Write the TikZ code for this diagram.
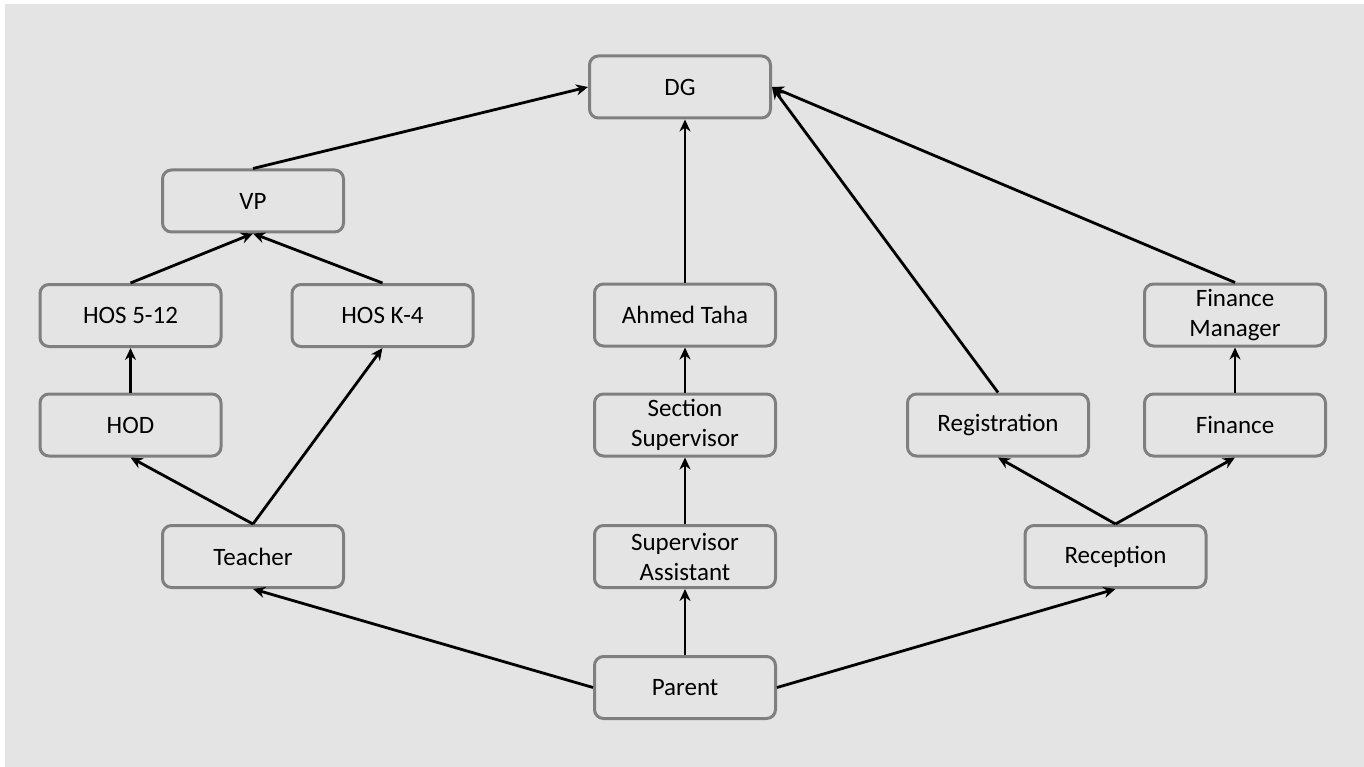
\documentclass[tikz,border=0pt]{standalone}
\usepackage{fontspec}
\setmainfont{Carlito}
\usetikzlibrary{arrows.meta}
\definecolor{bg}{HTML}{E4E4E4}
\definecolor{bd}{HTML}{7F7F7F}
\tikzset{
  box/.style={draw=bd, line width=3pt, rounded corners=9pt, fill=bg,
    minimum width=181pt, minimum height=62pt, align=center, inner sep=2pt,
    font=\fontsize{25}{30}\selectfont, text=black},
  arr/.style={line width=2.8pt, -{Stealth[length=12pt,width=11pt]}, black}
}
\begin{document}
\begin{tikzpicture}[x=1pt,y=-1pt]
\useasboundingbox (0,0) rectangle (1364,767);
\fill[bg] (5,4) rectangle (1375,780);
\node[box] (dg) at (680,87) {DG};
\node[box] (vp) at (253,201) {VP};
\node[box] (hos512) at (130.5,315.5) {HOS 5-12};
\node[box] (hosk4) at (382.5,315.5) {HOS K-4};
\node[box] (hod) at (130.5,425) {HOD};
\node[box] (teacher) at (253,556.5) {Teacher};
\node[box] (ahmed) at (685,315) {Ahmed Taha};
\node[box] (section) at (685,425) {Section\\Supervisor};
\node[box] (supasst) at (685,556.5) {Supervisor\\Assistant};
\node[box] (parent) at (685,687.5) {Parent};
\node[box] (reg) at (998,425) {Registration};
\node[box] (fin) at (1235,425) {Finance};
\node[box] (finman) at (1235,315) {Finance\\Manager};
\node[box] (rec) at (1115.5,556.5) {Reception};
\draw[arr] (vp.north) -- (dg.west);
\draw[arr] (ahmed.north) -- (ahmed.north |- dg.south);
\draw[arr] (reg.north) -- (dg.east);
\draw[arr] (finman.north) -- (dg.east);
\draw[arr] (hos512.north) -- (vp.south);
\draw[arr] (hosk4.north) -- (vp.south);
\draw[arr] (hod.north) -- (hos512.south);
\draw[arr] (teacher.north) -- (hod.south);
\draw[arr] (teacher.north) -- (hosk4.south);
\draw[arr] (parent.west) -- (teacher.south);
\draw[arr] (parent.north) -- (supasst.south);
\draw[arr] (supasst.north) -- (section.south);
\draw[arr] (section.north) -- (ahmed.south);
\draw[arr] (parent.east) -- (rec.south);
\draw[arr] (rec.north) -- (reg.south);
\draw[arr] (rec.north) -- (fin.south);
\draw[arr] (fin.north) -- (finman.south);
\end{tikzpicture}
\end{document}
